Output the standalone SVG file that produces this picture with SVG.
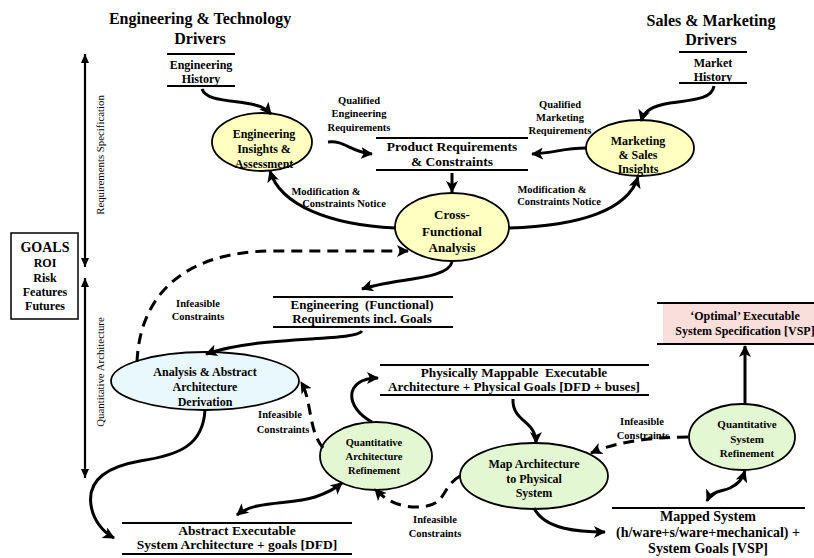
<svg xmlns="http://www.w3.org/2000/svg" width="814" height="558" viewBox="0 0 814 558">
<style>
text{font-family:"Liberation Serif","Times New Roman",serif;font-weight:bold;fill:#000;text-anchor:middle}
.t16{font-size:16px}.t14{font-size:13.5px}.t13{font-size:13px}.t12{font-size:12px}.t11{font-size:11px}.t10{font-size:10.5px}
.axis{font-weight:normal;font-size:10.8px}
.bar{stroke:#000;stroke-width:1.8}
.ell{stroke:#000;stroke-width:1.8}
.yel{fill:#FFFFC0}.cy{fill:#E8F8FC}.gr{fill:#E3F7D3}
.arr{fill:none;stroke:#000;stroke-width:3;marker-end:url(#ah)}
.arr2{fill:none;stroke:#000;stroke-width:3;marker-end:url(#ah);marker-start:url(#ah)}
.dash{fill:none;stroke:#000;stroke-width:3;stroke-dasharray:11 7;marker-end:url(#ah)}
.ax{fill:none;stroke:#000;stroke-width:2.2;marker-end:url(#as);marker-start:url(#as)}
</style>
<defs>
<marker id="ah" markerUnits="userSpaceOnUse" markerWidth="13" markerHeight="12" refX="11" refY="6" orient="auto-start-reverse"><path d="M0,0 L12,6 L0,12 L3,6 Z" fill="#000"/></marker>
<marker id="as" markerUnits="userSpaceOnUse" markerWidth="10" markerHeight="10" refX="9" refY="4" orient="auto-start-reverse"><path d="M0,0 L9,4 L0,8 Z" fill="#000"/></marker>
</defs>
<rect width="814" height="558" fill="#fff"/>

<g id="eng-drivers"><text class="t16" x="200" y="24">Engineering &amp; Technology</text><text class="t16" x="200" y="44">Drivers</text></g>
<g id="sales-drivers"><text class="t16" x="711" y="26">Sales &amp; Marketing</text><text class="t16" x="711" y="45">Drivers</text></g>

<g id="eng-history"><line class="bar" x1="167" y1="54" x2="235" y2="54"/><line class="bar" x1="167" y1="86" x2="235" y2="86"/><text class="t12" x="201" y="69">Engineering</text><text class="t12" x="201" y="83">History</text></g>
<g id="market-history"><line class="bar" x1="679" y1="52" x2="747" y2="52"/><line class="bar" x1="679" y1="83" x2="747" y2="83"/><text class="t12" x="713" y="67">Market</text><text class="t12" x="713" y="81">History</text></g>

<g id="goals"><rect x="11" y="233" width="67" height="86" fill="#fff" stroke="#000" stroke-width="1.5"/><text class="t14" x="45" y="252" style="font-size:14px">GOALS</text><text class="t12" x="45" y="267">ROI</text><text class="t12" x="45" y="282">Risk</text><text class="t12" x="45" y="296">Features</text><text class="t12" x="45" y="310">Futures</text></g>

<g id="axis-req"><path class="ax" d="M85,267 L85,54"/><text class="axis" transform="translate(104,155) rotate(-90)">Requirements Specification</text></g>
<g id="axis-qa"><path class="ax" d="M85,478 L85,278"/><text class="axis" transform="translate(104,372) rotate(-90)">Quantitative Architecture</text></g>

<g id="eng-insights"><ellipse class="ell yel" cx="262" cy="142" rx="50" ry="29"/><text class="t12" x="264" y="138">Engineering</text><text class="t12" x="264" y="153">Insights &amp;</text><text class="t12" x="264" y="168">Assessment</text></g>
<g id="mkt-insights"><ellipse class="ell yel" cx="640" cy="148" rx="54" ry="28"/><text class="t12" x="638" y="145">Marketing</text><text class="t12" x="638" y="159">&amp; Sales</text><text class="t12" x="638" y="173">Insights</text></g>

<g id="product-req"><line class="bar" x1="376" y1="138" x2="528" y2="138"/><line class="bar" x1="376" y1="170" x2="528" y2="170"/><text class="t14" x="452" y="151">Product Requirements</text><text class="t14" x="452" y="166">&amp; Constraints</text></g>

<g id="cross-func"><ellipse class="ell yel" cx="452" cy="227" rx="57" ry="34"/><text class="t13" x="452" y="219">Cross-</text><text class="t13" x="452" y="236">Functional</text><text class="t13" x="452" y="252">Analysis</text></g>

<g id="eng-func-req"><line class="bar" x1="273" y1="297" x2="453" y2="297"/><line class="bar" x1="273" y1="327" x2="453" y2="327"/><text class="t13" x="362" y="309" xml:space="preserve">Engineering  (Functional)</text><text class="t13" x="362" y="323">Requirements incl. Goals</text></g>

<g id="analysis"><ellipse class="ell cy" cx="205" cy="381" rx="94" ry="29"/><text class="t12" x="205" y="376">Analysis &amp; Abstract</text><text class="t12" x="205" y="391">Architecture</text><text class="t12" x="205" y="406">Derivation</text></g>

<g id="qar"><ellipse class="ell gr" cx="376" cy="456" rx="56" ry="34"/><text class="t10" x="374" y="446">Quantitative</text><text class="t10" x="374" y="460">Architecture</text><text class="t10" x="374" y="474">Refinement</text></g>

<g id="phys-map"><line class="bar" x1="380" y1="365" x2="649" y2="365"/><line class="bar" x1="380" y1="395" x2="649" y2="395"/><text class="t13" x="514" y="377" xml:space="preserve" style="font-size:13.2px">Physically Mappable  Executable</text><text class="t13" x="514" y="391" style="font-size:13.2px">Architecture + Physical Goals [DFD + buses]</text></g>

<g id="map-arch"><ellipse class="ell gr" cx="534" cy="476" rx="74" ry="33"/><text class="t12" x="534" y="468">Map Architecture</text><text class="t12" x="534" y="483">to Physical</text><text class="t12" x="534" y="497">System</text></g>

<g id="qsr"><ellipse class="ell gr" cx="742" cy="437" rx="53" ry="33"/><text class="t11" x="747" y="428">Quantitative</text><text class="t11" x="747" y="443">System</text><text class="t11" x="747" y="457">Refinement</text></g>

<g id="optimal"><rect x="663" y="303" width="151" height="41" fill="#FADEDB"/><line class="bar" x1="657" y1="303" x2="814" y2="303"/><line class="bar" x1="657" y1="344" x2="814" y2="344"/><text class="t12" x="745" y="320">‘Optimal’ Executable</text><text class="t12" x="745" y="335">System Specification [VSP]</text></g>

<g id="abstract-exec"><line class="bar" x1="122" y1="523" x2="352" y2="523"/><line class="bar" x1="122" y1="554" x2="352" y2="554"/><text class="t14" x="237" y="535">Abstract Executable</text><text class="t14" x="237" y="549">System Architecture + goals [DFD]</text></g>

<g id="mapped-system"><line class="bar" x1="612" y1="508" x2="805" y2="508"/><text class="t14" x="708" y="521" style="font-size:14px">Mapped System</text><text class="t14" x="708" y="537" style="font-size:14px">(h/ware+s/ware+mechanical) +</text><text class="t14" x="708" y="553" style="font-size:14px">System Goals [VSP]</text></g>

<g id="connectors">
<path class="arr" d="M202,89 C206,100 225,100 245,103 C258,105 265,107 271,114"/>
<path class="arr" d="M714,86 C712,100 690,100 670,103 C652,106 644,111 641,121"/>
<path class="arr" d="M328,142 C345,140 350,152 372,154"/>
<path class="arr" d="M586,148 C562,148 556,153 532,154"/>
<path class="arr" d="M452,173 L452,192"/>
<path class="arr" d="M395,228 C330,225 280,205 270,171"/>
<path class="arr" d="M509,228 C580,226 628,210 638,177"/>
<path class="arr" d="M452,262 C448,280 395,278 362,289"/>
<path class="arr" d="M362,331 C355,342 260,335 206,354"/>
<path class="dash" d="M137,362 C140,290 190,252 270,251 L408,251"/>
<path class="arr" d="M205,410 C203,445 180,455 140,461 C100,468 88,485 91,505 C93,520 103,532 114,538"/>
<path class="arr2" d="M237,515 C255,500 290,505 315,497 C330,492 336,488 342,483"/>
<path class="dash" d="M323,448 C308,430 312,400 301,382"/>
<path class="arr" d="M372,422 C345,408 343,378 378,378"/>
<path class="arr" d="M513,399 C512,422 536,420 536,443"/>
<path class="dash" d="M460,476 C440,488 448,505 420,507 C400,508 385,500 375,489"/>
<path class="dash" d="M688,437 C660,437 620,440 591,453"/>
<path class="arr" d="M745,405 L745,346"/>
<path class="arr" d="M534,508 C545,530 580,532 605,532"/>
<path class="arr2" d="M707,501 C712,490 722,492 730,488 C738,484 742,480 745,471"/>
</g>

<g id="labels">
<text class="t10" x="359" y="104">Qualified</text><text class="t10" x="359" y="117">Engineering</text><text class="t10" x="359" y="131">Requirements</text>
<text class="t10" x="560" y="108">Qualified</text><text class="t10" x="560" y="121">Marketing</text><text class="t10" x="560" y="134">Requirements</text>
<text class="t10" x="326" y="195">Modification &amp;</text><text class="t10" x="344" y="207">Constraints Notice</text>
<text class="t10" x="552" y="193">Modification &amp;</text><text class="t10" x="559" y="205">Constraints Notice</text>
<text class="t10" x="198" y="307">Infeasible</text><text class="t10" x="198" y="320">Constraints</text>
<text class="t10" x="280" y="418">Infeasible</text><text class="t10" x="283" y="433">Constraints</text>
<text class="t10" x="435" y="523">Infeasible</text><text class="t10" x="435" y="537">Constraints</text>
<text class="t10" x="642" y="425">Infeasible</text><text class="t10" x="643" y="439">Constraints</text>
</g>
</svg>
